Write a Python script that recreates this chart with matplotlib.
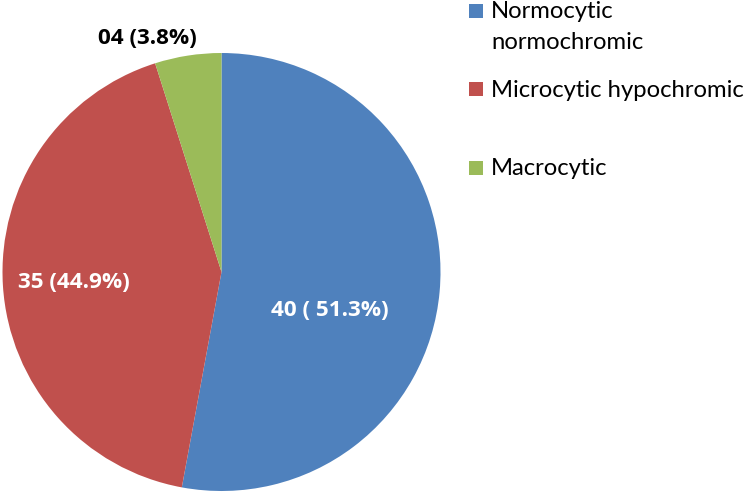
import matplotlib
matplotlib.use("Agg")
import matplotlib.pyplot as plt
from matplotlib.patches import Rectangle

# Data
categories = ["Normocytic\nnormochromic", "Microcytic hypochromic", "Macrocytic"]
slice_shares = [52.9, 42.2, 4.9]          # slice sizes as drawn in the picture
data_labels = ["40 ( 51.3%)", "35 (44.9%)", "04 (3.8%)"]
colors = ["#4F81BD", "#C0504D", "#9BBB59"]

W, H = 744, 496
fig = plt.figure(figsize=(W / 100, H / 100), dpi=100)
font = "Lato"

cx, cy, r = 221.5, 272.0, 219.0
ax = fig.add_axes([(cx - r) / W, (H - cy - r) / H, 2 * r / W, 2 * r / H])
ax.pie(slice_shares, colors=colors, startangle=90, counterclock=False,
       radius=1.0, wedgeprops=dict(linewidth=0))
ax.set_xlim(-1, 1)
ax.set_ylim(-1, 1)
ax.set_aspect("equal")
ax.axis("off")

def px(x, y):
    return ((x - cx) / r, (cy - y) / r)

label_pos = [(329.5, 310), (74, 283), (147, 38)]
label_col = ["white", "white", "black"]
for txt, (x, y), c in zip(data_labels, label_pos, label_col):
    dx, dy = px(x, y)
    ax.text(dx, dy, txt, ha="center", va="center", color=c, fontsize=16.2,
            fontweight="bold", family="Open Sans", clip_on=False)

# Legend (manual)
sq = 14
sq_x = 469
txt_x = 491
rows = [(11, [18.3, 49.3]), (89, [96.7]), (167.5, [175])]
for (sqc, baselines), cat, col in zip(rows, categories, colors):
    fig.patches.append(Rectangle(((sq_x) / W, (H - sqc - sq / 2) / H), sq / W, sq / H,
                                 transform=fig.transFigure, facecolor=col,
                                 edgecolor="none"))
    for line, b in zip(cat.split("\n"), baselines):
        fig.text(txt_x / W, (H - b) / H, line, ha="left", va="baseline",
                 fontsize=17.2, family=font, color="black")

fig.savefig("out.png", dpi=100)
